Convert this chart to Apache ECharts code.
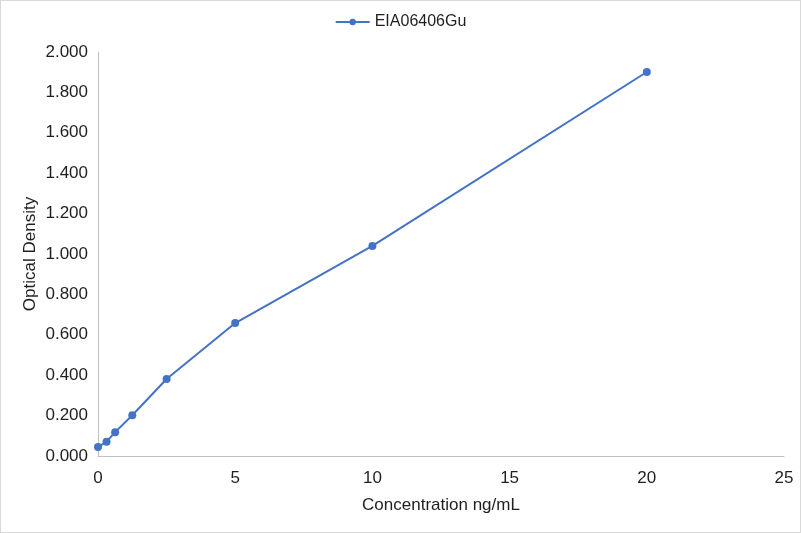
<!DOCTYPE html>
<html>
<head>
<meta charset="utf-8">
<script src="https://cdn.jsdelivr.net/npm/echarts@6/dist/echarts.min.js"></script>
<style>
html,body{margin:0;padding:0;background:#fff;}
#main{width:799px;height:531px;border:1px solid #d9d9d9;}
</style>
</head>
<body>
<div id="main"></div>
<script>
// standard curve values
var seriesName = "EIA06406Gu";
var conc = [0, 0.3125, 0.625, 1.25, 2.5, 5, 10, 20];
var od = [0.044, 0.071, 0.118, 0.202, 0.381, 0.658, 1.040, 1.901];

var pts = [];
for (var i = 0; i < conc.length; i++) {
    pts.push([conc[i], od[i]]);
}

var font = "Liberation Sans, Arial, sans-serif";
var ink = "#1f1f1f";

var myChart = echarts.init(document.getElementById("main"));
myChart.setOption({
    animation: false,
    legend: {
        top: 8,
        left: "center",
        itemWidth: 34,
        itemHeight: 8,
        textStyle: {color: ink, fontFamily: font, fontSize: 16},
        data: [seriesName]
    },
    grid: {left: 97, right: 16, top: 51, bottom: 76},
    xAxis: {
        type: "value",
        min: 0, max: 25, interval: 5,
        name: "Concentration ng/mL",
        nameLocation: "middle",
        nameGap: 41,
        nameMoveOverlap: false,
        nameTextStyle: {color: ink, fontFamily: font, fontSize: 17},
        axisLine: {lineStyle: {color: "#bfbfbf"}},
        axisTick: {show: false},
        splitLine: {show: false},
        axisLabel: {color: ink, fontFamily: font, fontSize: 17, margin: 14}
    },
    yAxis: {
        type: "value",
        min: 0, max: 2, interval: 0.2,
        name: "Optical Density",
        nameLocation: "middle",
        nameGap: 59,
        nameMoveOverlap: false,
        nameTextStyle: {color: ink, fontFamily: font, fontSize: 17},
        axisLine: {show: true, lineStyle: {color: "#bfbfbf"}},
        axisTick: {show: false},
        splitLine: {show: false},
        axisLabel: {
            color: ink, fontFamily: font, fontSize: 17, margin: 10,
            formatter: function (v) { return v.toFixed(3); }
        }
    },
    series: [{
        name: seriesName,
        type: "line",
        data: pts,
        symbol: "circle",
        symbolSize: 8,
        itemStyle: {color: "#4472c4"},
        lineStyle: {color: "#4472c4", width: 2}
    }]
});
</script>
</body>
</html>
